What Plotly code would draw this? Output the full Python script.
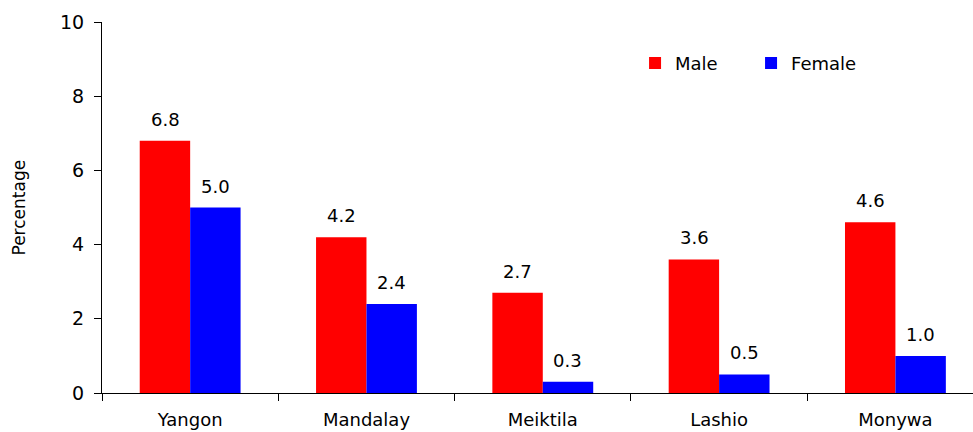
import plotly.graph_objects as go

categories = ["Yangon", "Mandalay", "Meiktila", "Lashio", "Monywa"]
male = [6.8, 4.2, 2.7, 3.6, 4.6]
female = [5.0, 2.4, 0.3, 0.5, 1.0]
y_ticks = [0, 2, 4, 6, 8, 10]

FONT = "DejaVu Sans"
RED = "#FF0000"
BLUE = "#0000FF"

fig = go.Figure()
fig.add_trace(go.Bar(name="Male", x=categories, y=male, marker=dict(color=RED, line=dict(width=0))))
fig.add_trace(go.Bar(name="Female", x=categories, y=female, marker=dict(color=BLUE, line=dict(width=0))))

annotations = []
for cat, m, f in zip(categories, male, female):
    annotations.append(dict(x=cat, y=m, xref="x", yref="y", text=f"{m:.1f}", showarrow=False,
                            xshift=-25, yanchor="bottom", yshift=9,
                            font=dict(family=FONT, size=18, color="black")))
    annotations.append(dict(x=cat, y=f, xref="x", yref="y", text=f"{f:.1f}", showarrow=False,
                            xshift=25, yanchor="bottom", yshift=9,
                            font=dict(family=FONT, size=18, color="black")))
annotations.append(dict(x=0, y=0.5, xref="paper", yref="paper", text="Percentage", showarrow=False,
                        textangle=-90, xanchor="center", yanchor="middle", xshift=-84,
                        font=dict(family=FONT, size=17, color="black")))

fig.update_layout(
    width=973, height=432,
    margin=dict(l=102, r=0, t=22, b=39, pad=0),
    paper_bgcolor="white", plot_bgcolor="white",
    barmode="group", bargap=0.428, bargroupgap=0,
    font=dict(family=FONT, size=18, color="black"),
    showlegend=True,
    legend=dict(orientation="h", x=0.612, y=0.889, xanchor="left", yanchor="middle",
                entrywidth=71, entrywidthmode="pixels", itemwidth=30,
                font=dict(family=FONT, size=18, color="black"), bgcolor="rgba(0,0,0,0)"),
    annotations=annotations,
)
fig.update_xaxes(range=[-0.5, 4.44], showline=True, linecolor="black", linewidth=1,
                 ticks="outside", ticklen=7, tickcolor="black", tickson="boundaries",
                 showgrid=False, zeroline=False, ticklabelstandoff=10,
                 tickfont=dict(family=FONT, size=18, color="black"))
fig.update_yaxes(range=[0, 10], tickvals=y_ticks, showline=True, linecolor="black", linewidth=1,
                 ticks="outside", ticklen=7, tickcolor="black", showgrid=False, zeroline=False,
                 ticklabelstandoff=6, tickfont=dict(family=FONT, size=19, color="black"))

fig.write_html("out.html", config={"displayModeBar": False},
               post_script="document.body.style.margin='0';document.body.style.overflow='hidden';")
